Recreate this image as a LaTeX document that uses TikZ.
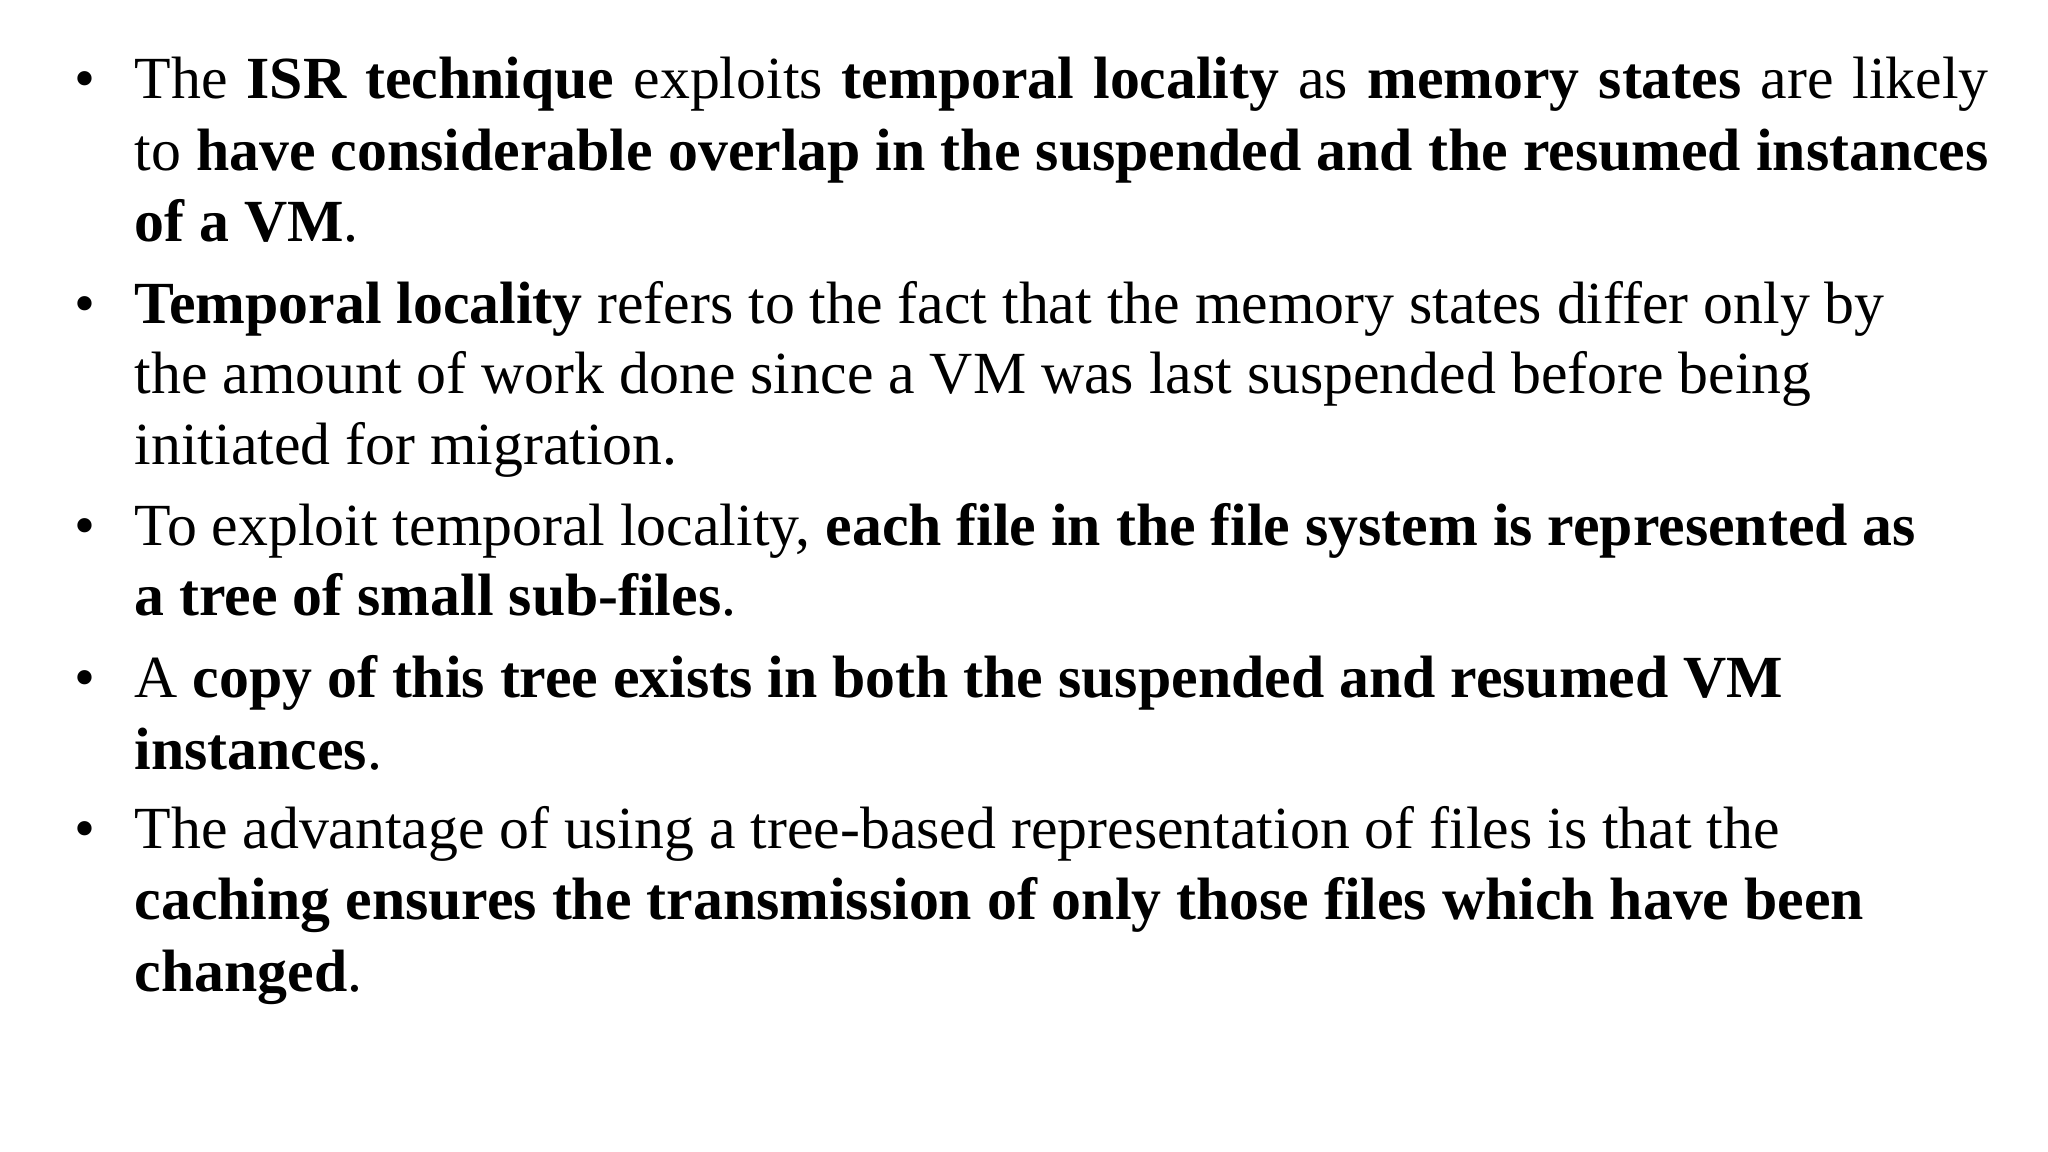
\documentclass[tikz,border=0pt]{standalone}
\usepackage{fontspec}
\setmainfont{Liberation Serif}
\begin{document}
\begin{tikzpicture}[x=0.01cm,y=-0.01cm,
  ln/.style={anchor=base west,inner sep=0pt,font=\fontsize{17}{20}\selectfont},
  bl/.style={anchor=base west,inner sep=0pt,font=\fontsize{17}{20}\selectfont}]
\useasboundingbox[fill=white] (0,0) rectangle (2048,1152);
\def\W{1853}
\foreach \y/\n in {99/b1,324/b2,546/b3,697/b4,848/b5}
  \node[bl] (\n) at (74,\y) {•};
\node[ln] (l1) at (134,99) {\hbox to 18.53cm{The \textbf{ISR technique} exploits \textbf{temporal locality} as \textbf{memory states} are likely}};
\node[ln] (l2) at (134,171) {\hbox to 18.53cm{to \textbf{have considerable overlap in the suspended and the resumed instances}}};
\node[ln] (l3) at (134,242) {\textbf{of a VM}.};
\node[ln] (l4) at (134,324) {\textbf{Temporal locality} refers to the fact that the memory states differ only by};
\node[ln] (l5) at (134,394) {the amount of work done since a VM was last suspended before being};
\node[ln] (l6) at (134,465) {initiated for migration.};
\node[ln] (l7) at (134,546) {To exploit temporal locality, \textbf{each file in the file system is represented as}};
\node[ln] (l8) at (134,616) {\textbf{a tree of small sub-files}.};
\node[ln] (l9) at (134,697) {A \textbf{copy of this tree exists in both the suspended and resumed VM}};
\node[ln] (l10) at (134,769) {\textbf{instances}.};
\node[ln] (l11) at (134,848) {The advantage of using a tree-based representation of files is that the};
\node[ln] (l12) at (134,919) {\textbf{caching ensures the transmission of only those files which have been}};
\node[ln] (l13) at (134,991) {\textbf{changed}.};
\end{tikzpicture}
\end{document}
